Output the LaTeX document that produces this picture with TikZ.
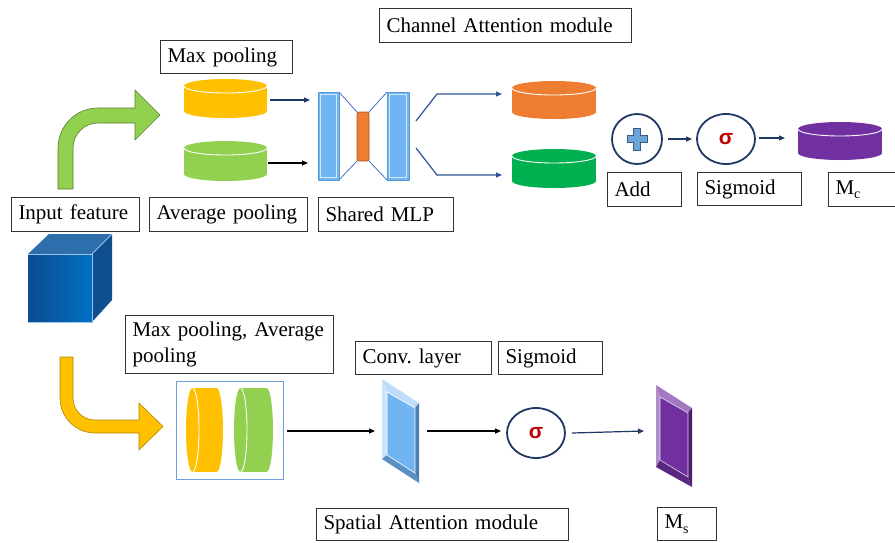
\documentclass[tikz,border=0pt]{standalone}
\usepackage{fontspec}
\setmainfont{Liberation Serif}
\newfontfamily\sigmafont{Liberation Sans}
\usetikzlibrary{arrows.meta,shapes.geometric}
\frenchspacing

\definecolor{navy}{HTML}{1F3864}
\definecolor{midblue}{HTML}{2F5597}
\definecolor{lineblue}{HTML}{4472C4}
\definecolor{cylyellow}{HTML}{FFC000}
\definecolor{cylgreen}{HTML}{92D050}
\definecolor{cylorange}{HTML}{ED7D31}
\definecolor{cyldkgreen}{HTML}{00B050}
\definecolor{cylpurple}{HTML}{7030A0}
\definecolor{sigred}{HTML}{C00000}
\definecolor{mlpblue}{HTML}{70B4F4}
\definecolor{mlpedge}{HTML}{5B9BD5}
\definecolor{cubeA}{HTML}{0B4C8E}
\definecolor{cubeB}{HTML}{0070C4}
\definecolor{cubetop}{HTML}{2F6EAC}
\definecolor{cuberight}{HTML}{0F4F8F}
\definecolor{cubeedge}{HTML}{9DC3E6}
\definecolor{framebox}{HTML}{6F9FDC}

% lowered small index letter
\newcommand{\idx}[1]{\raisebox{-4.5pt}{\fontsize{14}{14}\selectfont #1}}

% horizontal cylinder: centre x, top-rim y, bottom-rim y, x radius, colour
\newcommand{\hcyl}[5]{%
  \fill[#5] (#1-#4,#2) rectangle (#1+#4,#3);
  \fill[#5] (#1,#3) ellipse [x radius=#4, y radius=7];
  \fill[#5] (#1,#2) ellipse [x radius=#4, y radius=7];
  \begin{scope}
    \clip (#1-#4-2,#2) rectangle (#1+#4+2,#2+9);
    \draw[white, line width=0.9pt] (#1,#2) ellipse [x radius=#4, y radius=7];
  \end{scope}}
% cylinder lying on its side: left face x, right face x, centre y, y radius, colour
\newcommand{\vcyl}[5]{%
  \fill[#5] (#1,#3-#4) rectangle (#2,#3+#4);
  \fill[#5] (#2,#3) ellipse [x radius=6.5, y radius=#4];
  \fill[#5] (#1,#3) ellipse [x radius=6.5, y radius=#4];
  \begin{scope}
    \clip (#1,#3-#4-2) rectangle (#1+9,#3+#4+2);
    \draw[white, line width=0.9pt] (#1,#3) ellipse [x radius=6.5, y radius=#4];
  \end{scope}}

\begin{document}
\begin{tikzpicture}[x=1pt, y=-1pt,
  font=\fontsize{21}{26}\selectfont,
  lbl/.style={draw=black!80, line width=1pt, anchor=north west,
              inner xsep=7pt, inner ysep=0pt, align=left},
  arr/.style={line width=1.2pt, -{Triangle[length=6pt, width=5pt]}},
  opcirc/.style={draw=navy, line width=1.8pt, inner sep=0pt},
  sig/.style={text=sigred, font=\sigmafont\bfseries\fontsize{21}{21}\selectfont}]

\clip (0,0) rectangle (895,542);
\fill[white] (0,0) rectangle (895,542);

% ---------- labels ----------
\node[lbl, text width=238pt, minimum height=34pt] (cam)  at (379,8)   {Channel Attention module};
\node[lbl, text width=118pt, minimum height=33pt] (maxp) at (160,40)  {Max pooling};
\node[lbl, text width=114pt, minimum height=34pt] (inp)  at (11,197)  {Input feature};
\node[lbl, text width=144pt, minimum height=34pt] (avgp) at (149,197) {Average pooling};
\node[lbl, text width=121pt, minimum height=34pt] (mlpl) at (318,197) {Shared MLP};
\node[lbl, text width=60pt,  minimum height=34pt] (addl) at (607,172) {Add};
\node[lbl, text width=90pt,  minimum height=33pt] (sigl) at (697,172) {Sigmoid};
\node[lbl, text width=70pt,  minimum height=34pt] (mcl)  at (828,172) {M\idx{c}};
\node[lbl, text width=194pt, minimum height=58pt] (mpap) at (125,315) {Max pooling, Average\\pooling};
\node[lbl, text width=122pt, minimum height=33pt] (convl) at (355,341) {Conv. layer};
\node[lbl, text width=90pt,  minimum height=33pt] (sig2l) at (498,341) {Sigmoid};
\node[lbl, text width=238pt, minimum height=32pt] (saml) at (316,508) {Spatial Attention module};
\node[lbl, text width=45pt,  minimum height=33pt] (msl)  at (657,507) {M\idx{s}};

% ---------- input feature cube ----------
\fill[cubetop]   (28,254) -- (49,234) -- (112,234) -- (92,254) -- cycle;
\fill[cuberight] (92,254) -- (112,234) -- (112,300) -- (92,322) -- cycle;
\shade[left color=cubeA, right color=cubeB] (28,254) rectangle (92,322);
\draw[cubeedge, line width=0.8pt] (28,254) -- (92,254) -- (92,322) -- (28,322);
\draw[cubeedge, line width=0.8pt] (92,254) -- (112,234);

% ---------- bent arrows ----------
\filldraw[fill=cylgreen, draw=cylgreen!60!black, line width=0.6pt]
  (58,189) -- (58,148) .. controls (58,125.9) and (75.9,108) .. (98,108)
  -- (135,108) -- (135,90) -- (160,115) -- (135,140) -- (135,123) -- (98,123)
  .. controls (84.2,123) and (73,134.2) .. (73,148) -- (73,189) -- cycle;
\filldraw[fill=cylyellow, draw=cylyellow!70!black, line width=0.6pt]
  (60,357) -- (60,398) .. controls (60,417.3) and (75.7,433) .. (95,433)
  -- (139,433) -- (139,450) -- (163,426.5) -- (139,403) -- (139,420) -- (95,420)
  .. controls (82.8,420) and (73,410.2) .. (73,398) -- (73,357) -- cycle;

% ---------- channel attention branch ----------
\hcyl{225.5}{86}{111}{41.5}{cylyellow}
\hcyl{225.5}{148}{174}{41.5}{cylgreen}
\coordinate (ycyl) at (270,100);
\coordinate (gcyl) at (268,163);
\coordinate (mlpin1) at (310,100);
\coordinate (mlpin2) at (308,163);
\draw[arr, navy] (ycyl) -- (mlpin1);
\draw[arr, black] (gcyl) -- (mlpin2);

% shared MLP
\draw[lineblue, line width=0.8pt] (339,92) -- (357,112) (369,112) -- (387,92)
  (339,180) -- (357,161) (369,161) -- (387,180);
\filldraw[fill=mlpblue, draw=mlpedge, line width=0.8pt] (318,92) rectangle (339,180);
\draw[white!70!mlpblue, line width=0.8pt] (320.5,94.5) rectangle (336.5,177.5);
\filldraw[fill=mlpblue, draw=mlpedge, line width=0.8pt] (387,92) rectangle (409,180);
\draw[white!70!mlpblue, line width=0.8pt] (389.5,94.5) rectangle (406.5,177.5);
\filldraw[fill=cylorange, draw=cylorange!70!black, line width=0.8pt, rounded corners=2pt]
  (357,112) rectangle (369,161);

\coordinate (mlpout1) at (416,121);
\coordinate (mlpout2) at (416,148);
\coordinate (ocyl) at (502,94);
\coordinate (dgcyl) at (502,175);
\draw[arr, midblue] (mlpout1) -- (437,94) -- (ocyl);
\draw[arr, midblue] (mlpout2) -- (437,175) -- (dgcyl);
\hcyl{554}{88}{112}{42}{cylorange}
\hcyl{554}{156}{181}{42}{cyldkgreen}

% add and sigmoid
\node[opcirc, circle, minimum size=50pt] (add) at (637,139) {};
\fill[mlpedge!90!white, draw=mlpedge!60!black, line width=0.6pt]
  (633.5,128) -- (640.5,128) -- (640.5,135.5) -- (647,135.5) -- (647,142.5)
  -- (640.5,142.5) -- (640.5,150) -- (633.5,150) -- (633.5,142.5) -- (627,142.5)
  -- (627,135.5) -- (633.5,135.5) -- cycle;
\node[opcirc, ellipse, minimum width=58pt, minimum height=50pt] (sig1) at (726,139) {};
\node[sig] at (sig1.center) {σ};
\draw[arr, navy] ([xshift=5pt]add.east) -- ([xshift=-4pt]sig1.west);
\coordinate (mccyl) at (785,138);
\draw[arr, navy] ([xshift=3pt]sig1.east |- mccyl) -- (mccyl);
\hcyl{840}{129}{153}{42}{cylpurple}

% ---------- spatial attention branch ----------
\draw[framebox, line width=1pt] (176,381) rectangle (283,479);
\vcyl{192.5}{216.5}{430}{42}{cylyellow}
\vcyl{240.5}{266.5}{430}{42}{cylgreen}

\coordinate (poolout) at (287,431);
\coordinate (convin) at (375,431);
\draw[arr, black] (poolout) -- (convin);

% convolution layer slab
\fill[mlpblue] (387,392) -- (415,408) -- (415,473) -- (387,455) -- cycle;
\fill[white!55!mlpblue] (382,379) -- (419,403) -- (415,408) -- (387,392) -- cycle;
\fill[white!65!mlpblue] (382,379) -- (387,392) -- (387,455) -- (382,459) -- cycle;
\fill[mlpblue!70!black] (419,403) -- (419,483) -- (415,473) -- (415,408) -- cycle;
\fill[mlpblue!80!black] (382,459) -- (387,455) -- (415,473) -- (419,483) -- cycle;
\draw[white, line width=0.6pt] (387,392) -- (415,408) -- (415,473) -- (387,455) -- cycle;

\coordinate (convout) at (427,431);
\node[opcirc, ellipse, minimum width=58pt, minimum height=50pt] (sig2) at (536,433) {};
\node[sig] at (sig2.center) {σ};
\draw[arr, black] (convout) -- ([xshift=-5pt]sig2.west |- convout);
\coordinate (msin) at (644,431);
\draw[arr, navy] ([xshift=6pt]sig2.east) -- (msin);

% spatial attention map slab
\fill[cylpurple] (660,397) -- (688,413) -- (688,477) -- (660,460) -- cycle;
\fill[white!35!cylpurple] (656,385) -- (692,408) -- (688,413) -- (660,397) -- cycle;
\fill[white!45!cylpurple] (656,385) -- (660,397) -- (660,460) -- (656,467) -- cycle;
\fill[cylpurple!65!black] (692,408) -- (692,487) -- (688,477) -- (688,413) -- cycle;
\fill[cylpurple!80!black] (656,467) -- (660,460) -- (688,477) -- (692,487) -- cycle;
\draw[white!80!cylpurple, line width=0.6pt] (660,397) -- (688,413) -- (688,477) -- (660,460) -- cycle;

\end{tikzpicture}
\end{document}
